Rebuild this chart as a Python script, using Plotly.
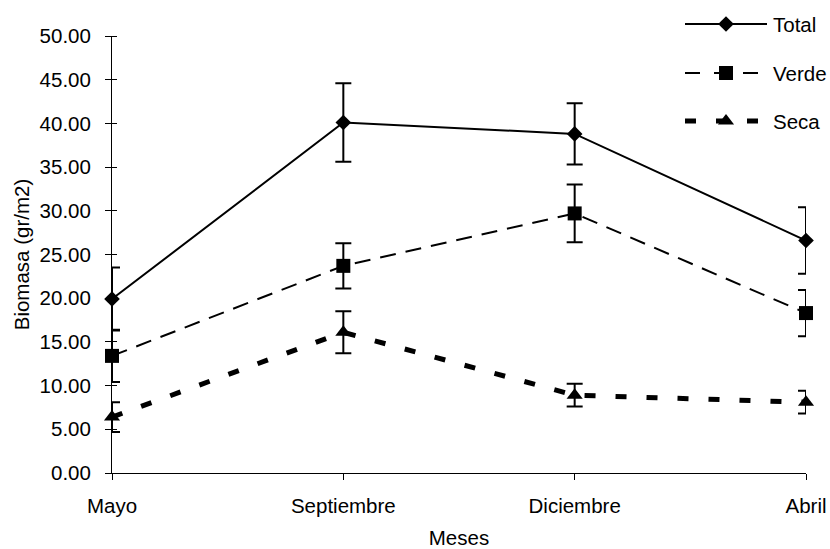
import plotly.graph_objects as go

# Monthly biomass samples (g/m2) with standard deviations
meses = ["Mayo", "Septiembre", "Diciembre", "Abril"]
total = [19.9, 40.1, 38.8, 26.6]
total_err = [3.6, 4.5, 3.5, 3.8]
verde = [13.4, 23.7, 29.7, 18.3]
verde_err = [3.0, 2.6, 3.3, 2.65]
seca = [6.4, 16.1, 8.9, 8.1]
seca_err = [1.7, 2.4, 1.3, 1.3]

y_ticks = [0, 5, 10, 15, 20, 25, 30, 35, 40, 45, 50]

FONT = "Liberation Sans, Arial, sans-serif"
FS = 20.5
BLACK = "#000000"

W, H = 830, 549
M_L, M_R, M_T, M_B = 112, 24, 6, 76
PLOT_TOP = 36  # pixel row of the 50.00 tick

series = [
    ("Total", total, total_err, "solid", 2, "diamond", 12, "solid"),
    ("Verde", verde, verde_err, "16px,10px", 2, "square", 14, "15px,14px"),
    ("Seca", seca, seca_err, "11px,20px", 5, "triangle-up", 14, "11px,20px"),
]

fig = go.Figure()

# Legend samples on a separate pixel-scaled subplot (x2/y2)
leg_y = [24, 73, 121]
for (name, vals, errs, dash, lw, sym, ms, ldash), yy in zip(series, leg_y):
    fig.add_trace(go.Scatter(
        x=[685, 767], y=[yy, yy], mode="lines",
        line=dict(color=BLACK, width=lw, dash=ldash),
        xaxis="x2", yaxis="y2", showlegend=False, hoverinfo="skip"))
    fig.add_trace(go.Scatter(
        x=[726], y=[yy], mode="markers",
        marker=dict(symbol=sym, size=ms, color=BLACK),
        xaxis="x2", yaxis="y2", showlegend=False, hoverinfo="skip"))
    fig.add_annotation(x=771, y=yy, xref="x2", yref="y2", text=name,
                       showarrow=False, xanchor="left", yanchor="middle",
                       font=dict(family=FONT, size=FS, color=BLACK))

for name, vals, errs, dash, lw, sym, ms, ldash in series:
    fig.add_trace(go.Scatter(
        x=meses, y=vals, name=name, mode="lines+markers",
        line=dict(color=BLACK, width=lw, dash=dash),
        marker=dict(symbol=sym, size=ms, color=BLACK),
        error_y=dict(type="data", array=errs, visible=True,
                     color=BLACK, thickness=2, width=8),
        showlegend=False, cliponaxis=False,
    ))

plot_h = H - M_T - M_B
main_top = (H - M_B - PLOT_TOP) / plot_h

fig.update_layout(
    width=W, height=H,
    margin=dict(l=M_L, r=M_R, t=M_T, b=M_B, autoexpand=False),
    paper_bgcolor="white", plot_bgcolor="rgba(0,0,0,0)",
    font=dict(family=FONT, size=FS, color=BLACK),
    xaxis=dict(
        type="category", categoryorder="array", categoryarray=meses,
        range=[0, 3], showgrid=False, zeroline=False, automargin=False,
        showline=True, linecolor=BLACK, linewidth=1,
        ticks="outside", ticklen=6, tickcolor=BLACK, tickwidth=1,
        ticklabelstandoff=8,
        title=dict(text="Meses", standoff=19,
                   font=dict(family=FONT, size=FS)),
    ),
    yaxis=dict(
        domain=[0, main_top], automargin=False,
        range=[0, 50], tickvals=y_ticks, tickformat=".2f",
        showgrid=False, zeroline=False,
        showline=True, linecolor=BLACK, linewidth=1,
        ticks="outside", ticklen=6, tickcolor=BLACK, tickwidth=1,
        ticklabelstandoff=10,
        minor=dict(tickmode="array", tickvals=[v + 1e-4 for v in y_ticks],
                   ticks="inside", ticklen=5, tickcolor=BLACK, tickwidth=1),
        title=dict(text="Biomasa (gr/m2)", standoff=4,
                   font=dict(family=FONT, size=FS)),
    ),
    xaxis2=dict(domain=[0, 1], range=[M_L, W - M_R], anchor="y2",
                visible=False, fixedrange=True, automargin=False),
    yaxis2=dict(domain=[0, 1], range=[H - M_B, M_T], anchor="x2",
                visible=False, fixedrange=True, automargin=False),
)

fig.write_html("out.html")
